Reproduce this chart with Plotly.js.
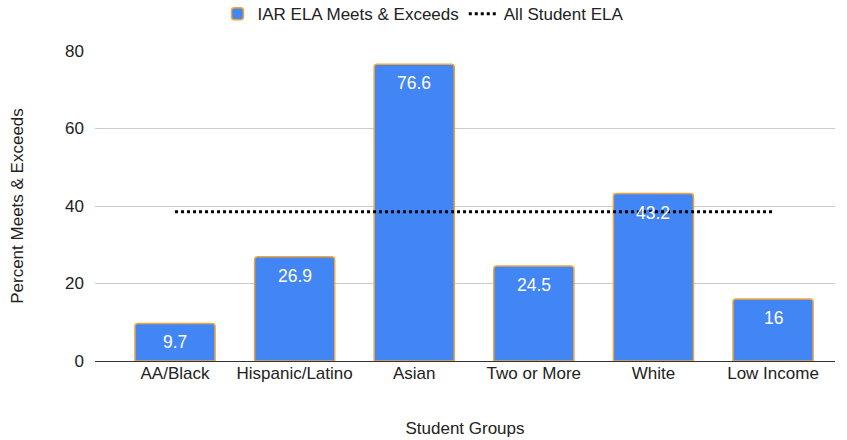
<!DOCTYPE html>
<html><head><meta charset="utf-8">
<script src="https://cdn.plot.ly/plotly-3.0.1.min.js"></script>
<style>html,body{margin:0;padding:0;background:#fff}#c{width:847px;height:440px}</style>
</head><body><div id="c"></div>
<script>
var categories = ["AA/Black", "Hispanic/Latino", "Asian", "Two or More", "White", "Low Income"];
var elaValues = [9.7, 26.9, 76.6, 24.5, 43.2, 16];
var allStudentEla = [38.5, 38.5, 38.5, 38.5, 38.5, 38.5];
var yTicks = [0, 20, 40, 60, 80];

var font = "Arial, 'Liberation Sans', sans-serif";
var traces = [
  {
    type: "bar", name: "IAR ELA Meets & Exceeds", x: categories, y: elaValues,
    width: 0.67,
    marker: {color: "#4285F4", line: {color: "#F1A53C", width: 1.5}, cornerradius: 3},
    hoverinfo: "none"
  },
  {
    type: "scatter", mode: "lines", name: "All Student ELA", x: categories, y: allStudentEla,
    line: {color: "#000000", width: 3, dash: "dot"}
  }
];
var annotations = categories.map(function (c, i) {
  return {x: c, y: elaValues[i], xref: "x", yref: "y", text: String(elaValues[i]),
          showarrow: false, yanchor: "middle", yshift: -19,
          font: {color: "#ffffff", size: 17.5, family: font}};
});
var layout = {
  width: 847, height: 440,
  margin: {l: 95, r: 12, t: 51, b: 79, autoexpand: false},
  paper_bgcolor: "#fff", plot_bgcolor: "#fff",
  font: {family: font, size: 17, color: "#222"},
  showlegend: true,
  legend: {orientation: "h", x: 0.5, xanchor: "center", xref: "container", y: 0.968, yanchor: "middle", yref: "container",
           font: {size: 17, color: "#222"}, traceorder: "normal", itemwidth: 30},
  annotations: annotations,
  xaxis: {type: "category", range: [-0.669, 5.518], showgrid: false, ticks: "", zeroline: false,
          title: {text: "Student Groups", font: {size: 17}, standoff: 40},
          tickfont: {size: 17}, automargin: false},
  yaxis: {range: [0, 80], tickvals: yTicks, ticktext: yTicks.map(String), showgrid: true, gridcolor: "#cccccc",
          zeroline: true, zerolinecolor: "#333333", zerolinewidth: 1, ticks: "",
          ticklabelstandoff: 10,
          title: {text: "Percent Meets & Exceeds", font: {size: 17}, standoff: 37},
          tickfont: {size: 17}, automargin: false}
};
Plotly.newPlot("c", traces, layout, {displayModeBar: false, staticPlot: true});
</script></body></html>
